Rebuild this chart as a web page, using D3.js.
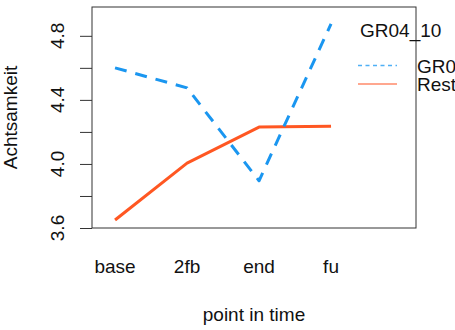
<!DOCTYPE html>
<html><head><meta charset="utf-8">
<script src="https://cdn.jsdelivr.net/npm/d3@7"></script>
<style>body{margin:0;background:#fff;overflow:hidden}svg{display:block}</style>
</head><body>
<script>
const categories = ["base", "2fb", "end", "fu"];
const seriesNames = ["GR04_10", "Rest"];
const groupValues = [4.60, 4.475, 3.895, 4.875];
const restValues = [3.65, 4.005, 4.23, 4.235];
const yTicks = [3.6, 3.8, 4.0, 4.2, 4.4, 4.6, 4.8];
const yTickLabels = ["3.6", "", "4.0", "", "4.4", "", "4.8"];
const legendTitle = "GR04_10";
const xTitle = "point in time";
const yTitle = "Achtsamkeit";

const W = 455, H = 330;
const box = {l: 92, r: 416, t: 7, b: 228};
const font = "Liberation Sans, Arial, sans-serif";
const fs = 19;

const svg = d3.select("body").append("svg").attr("width", W).attr("height", H);
const x = d3.scaleLinear().domain([0.68, 5.18]).range([box.l, box.r]);
const y = d3.scaleLinear().domain([3.6, 4.98]).range([box.b, box.t]);

// y axis
const yAxis = d3.axisLeft(y).tickValues(yTicks).tickSize(12).tickFormat(() => "");
const ya = svg.append("g").attr("transform", `translate(${box.l},0)`).call(yAxis);
ya.select(".domain").remove();
ya.selectAll("line").attr("stroke", "#333").attr("stroke-width", 1);
svg.selectAll(".ylab").data(yTicks).enter().append("text")
  .attr("transform", d => `translate(64,${y(d)}) rotate(-90)`)
  .attr("text-anchor", "middle").attr("font-family", font).attr("font-size", fs).attr("fill", "#111")
  .text((d,i) => yTickLabels[i]);

// box
svg.append("rect").attr("x", box.l).attr("y", box.t).attr("width", box.r - box.l).attr("height", box.b - box.t)
  .attr("fill", "none").attr("stroke", "#333").attr("stroke-width", 1);

// x labels
svg.selectAll(".xlab").data(categories).enter().append("text")
  .attr("x", (d,i) => x(i+1)).attr("y", 273).attr("text-anchor", "middle")
  .attr("font-family", font).attr("font-size", fs).attr("fill", "#111").text(d => d);

// titles
svg.append("text").attr("x", (box.l+box.r)/2).attr("y", 321).attr("text-anchor","middle")
  .attr("font-family", font).attr("font-size", fs).attr("fill", "#111").text(xTitle);
svg.append("text").attr("transform", `translate(17,${(box.t+box.b)/2}) rotate(-90)`).attr("text-anchor","middle")
  .attr("font-family", font).attr("font-size", fs).attr("fill", "#111").text(yTitle);

// lines
const line = d3.line().x((d,i) => x(i+1)).y(d => y(d));
svg.append("path").datum(restValues).attr("d", line).attr("fill","none")
  .attr("stroke", "#FF5722").attr("stroke-width", 3).attr("stroke-linejoin","round");
svg.append("path").datum(groupValues).attr("d", line).attr("fill","none")
  .attr("stroke", "#1A96F0").attr("stroke-width", 3).attr("stroke-dasharray", "12 9").attr("stroke-linejoin","round");

// legend
svg.append("text").attr("x", 360).attr("y", 37).attr("font-family", font).attr("font-size", fs).attr("fill","#111").text(legendTitle);
const legColors = ["#4FB0F5", "#FF8A6A"];
const legDash = ["4 3.5", null];
seriesNames.forEach((n,i) => {
  const ly = 65.5 + i*18.5;
  svg.append("line").attr("x1", 358).attr("x2", 397).attr("y1", ly).attr("y2", ly)
    .attr("stroke", legColors[i]).attr("stroke-width", 1.5).attr("stroke-dasharray", legDash[i]);
  svg.append("text").attr("x", 417).attr("y", ly + 7).attr("font-family", font).attr("font-size", fs).attr("fill","#111").text(n);
});
</script>
</body></html>
